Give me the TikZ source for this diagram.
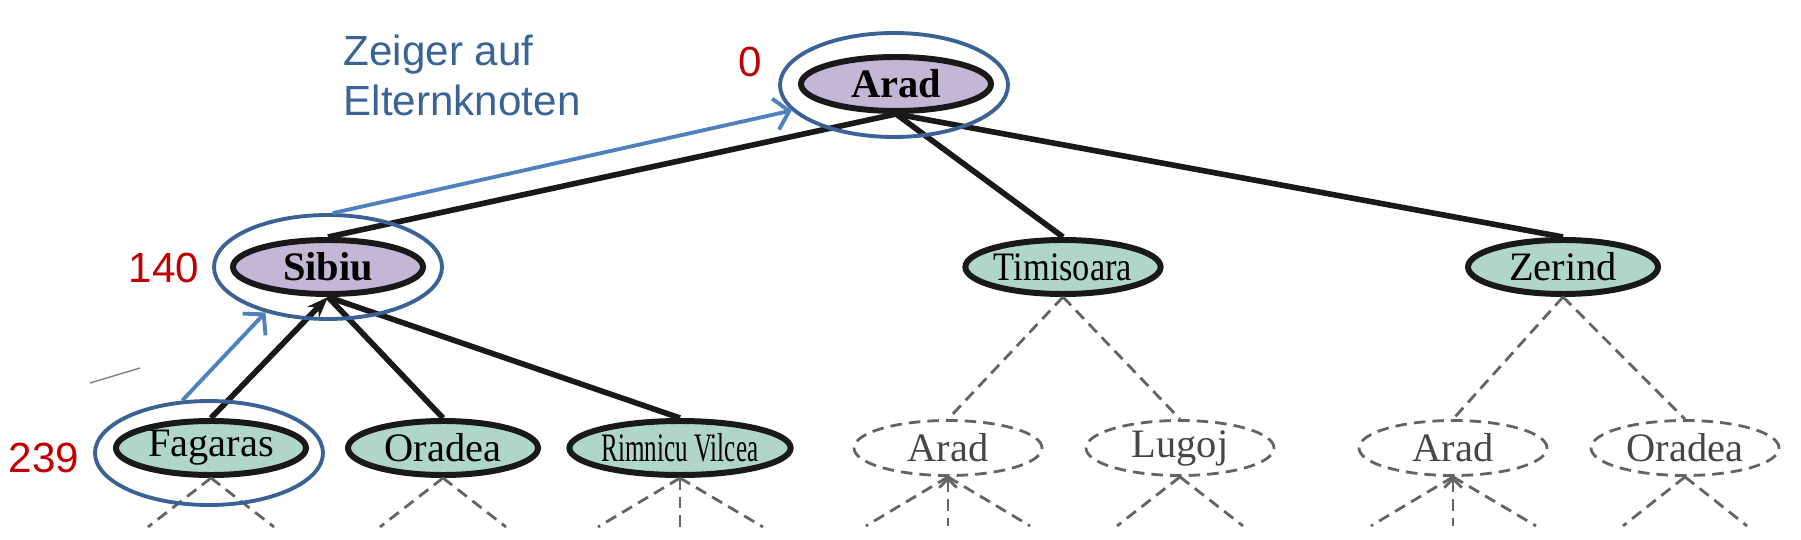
\documentclass[tikz,border=0pt]{standalone}
\usepackage{fontspec}
\setmainfont{Liberation Serif}
\newfontfamily\annofont{Liberation Sans}
\newfontfamily\narrowfont[FakeStretch=0.62]{Liberation Serif}
\newfontfamily\condfont[FakeStretch=0.85]{Liberation Serif}
\usetikzlibrary{arrows.meta, shapes.geometric}
\definecolor{opened}{RGB}{196,183,213}
\definecolor{frontier}{RGB}{176,213,201}
\definecolor{ghost}{RGB}{100,100,100}
\definecolor{ptrblue}{RGB}{79,129,189}
\definecolor{ringblue}{RGB}{58,98,148}
\definecolor{textblue}{RGB}{58,100,150}
\definecolor{costred}{RGB}{192,0,0}

\begin{document}
\begin{tikzpicture}[>=Stealth,
  city/.style={ellipse,draw=black!90,line width=1.7pt,minimum width=1.9cm,
    minimum height=0.54cm,inner sep=0pt,font=\fontsize{11.5}{13}\selectfont},
  expanded/.style={city,fill=opened,font=\fontsize{11.5}{13}\selectfont\bfseries},
  leaf/.style={city,fill=frontier},
  unseen/.style={ellipse,draw=ghost,dash pattern=on 3.3pt off 2pt,line width=0.8pt,
    minimum width=1.88cm,minimum height=0.55cm,inner sep=0pt,text=ghost!70!black,
    font=\fontsize{11.5}{13}\selectfont},
  ring/.style={ellipse,draw=ringblue,line width=1.1pt,minimum width=2.28cm,
    minimum height=1.04cm,inner sep=0pt},
  tree/.style={black!90,line width=1.6pt},
  stub/.style={ghost,dash pattern=on 3.3pt off 2pt,line width=0.8pt},
  pointer/.style={ptrblue,line width=1.1pt,-{Straight Barb[length=4pt,width=9pt]}},
  cost/.style={text=costred,font=\annofont\fontsize{12}{14}\selectfont}]
  \useasboundingbox (0,0) rectangle (18.01,-5.40);

  % expanded path Arad -> Sibiu -> Fagaras
  \node[expanded] (arad) at (8.96,-0.84) {Arad};
  \node[expanded] (sib) at (3.28,-2.67) {Sibiu};
  \node[leaf,font=\condfont\fontsize{11.5}{13}\selectfont] (tim) at (10.63,-2.67) {Timisoara};
  \node[leaf] (zer) at (15.63,-2.67) {Zerind};
  \node[leaf] (fag) at (2.11,-4.48) {Fagaras};
  \node[leaf] (ora) at (4.43,-4.48) {Oradea};
  \node[leaf,font=\narrowfont\fontsize{11.5}{13}\selectfont] (rim) at (6.80,-4.48) {Rimnicu Vilcea};
  % not yet generated
  \node[unseen] (ara1) at (9.48,-4.48) {Arad};
  \node[unseen] (lug) at (11.80,-4.48) {Lugoj};
  \node[unseen] (ara2) at (14.53,-4.48) {Arad};
  \node[unseen] (ora2) at (16.85,-4.48) {Oradea};

  % tree edges
  \draw[tree] (arad.south) -- (sib.north);
  \draw[tree] (arad.south) -- (tim.north);
  \draw[tree] (arad.south) -- (zer.north);
  \draw[tree,-{Stealth[length=6pt]}] (fag.north) -- (sib.south);
  \draw[tree] (sib.south) -- (ora.north);
  \draw[tree] (sib.south) -- (rim.north);
  \draw[stub] (tim.south) -- (ara1.north);
  \draw[stub] (tim.south) -- (lug.north);
  \draw[stub] (zer.south) -- (ara2.north);
  \draw[stub] (zer.south) -- (ora2.north);

  % stubs below the lowest level
  \foreach \n/\dx in {fag/-0.63, fag/0.63, ora/-0.63, ora/0.63,
                      rim/-0.82, rim/0.83, ara1/-0.82, ara1/0.82,
                      lug/-0.63, lug/0.63, ara2/-0.82, ara2/0.83,
                      ora2/-0.62, ora2/0.62}
    \draw[stub] (\n.south) -- ++(\dx,-0.49);
  \draw[stub] (rim.south) -- ++(0,-0.49);
  \foreach \n in {ara1, ara2}
    \draw[stub,{Straight Barb[length=2.5pt]}-] (\n.south) -- ++(0,-0.49);

  % stray mark
  \draw[gray,line width=0.4pt] (0.90,-3.83) -- (1.40,-3.68);

  % parent pointers
  \node[ring] (aradring) at (8.94,-0.85) {};
  \node[ring] (sibring) at (3.28,-2.67) {};
  \node[ring] (fagring) at (2.09,-4.53) {};
  \draw[pointer] (sibring.85) -- (aradring.194);
  \draw[pointer] (fagring.117) -- (sibring.216);

  \node[anchor=north west,inner sep=0pt,align=left,text=textblue,
    font=\annofont\fontsize{12}{14.2}\selectfont] (hint) at (3.43,-0.34)
    {Zeiger auf\\Elternknoten};

  % path costs g
  \node[cost] (c0) at (7.50,-0.62) {0};
  \node[cost] (c140) at (1.64,-2.68) {140};
  \node[cost] (c239) at (0.44,-4.58) {239};
\end{tikzpicture}
\end{document}
